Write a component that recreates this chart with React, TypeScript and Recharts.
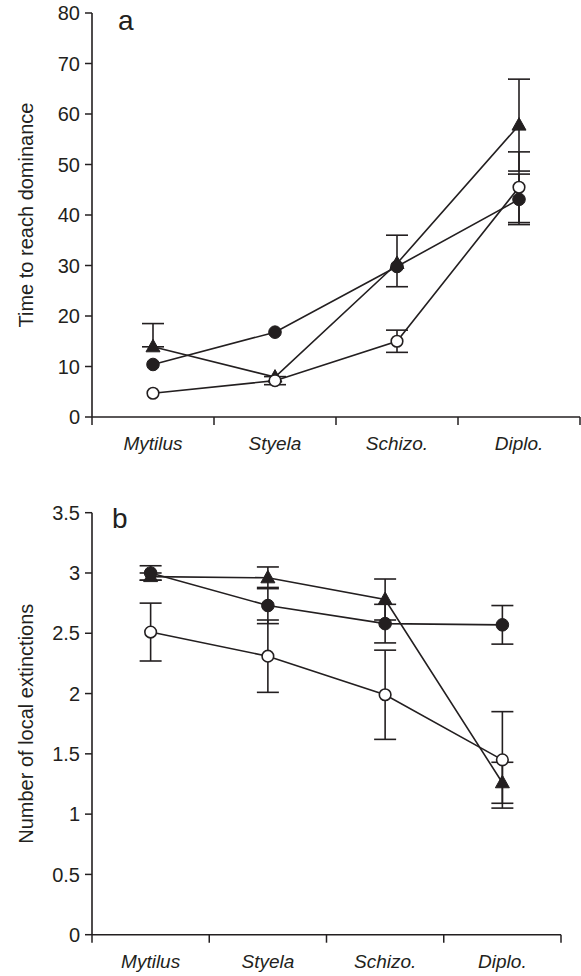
import { LineChart, Line, XAxis, YAxis, ErrorBar, Customized } from "recharts"

const INK = "#231f20"
const FONT = "'Liberation Sans', Arial, Helvetica, sans-serif"

const species = ["Mytilus", "Styela", "Schizo.", "Diplo."]

// panel a: time to reach dominance ([below, above] where the bars are uneven)
const domTriangle = [13.9, 7.9, 30.4, 57.8]
const domTriangleErr: (number | number[])[] = [[0, 4.6], 0, [4.6, 5.6], 9.1]
const domFilled = [10.4, 16.8, 29.8, 43.1]
const domFilledErr = [0, 0, 0, 5.0]
const domOpen = [4.7, 7.2, 15.0, 45.5]
const domOpenErr = [0, 0.8, 2.2, 7.0]
const domTicks = [0, 10, 20, 30, 40, 50, 60, 70, 80]

// panel b: number of local extinctions
const extTriangle = [2.97, 2.96, 2.78, 1.26]
const extTriangleErr = [0.03, 0.09, 0.17, 0.17]
const extFilled = [3.0, 2.73, 2.58, 2.57]
const extFilledErr = [0.06, 0.15, 0.16, 0.16]
const extOpen = [2.51, 2.31, 1.99, 1.45]
const extOpenErr = [0.24, 0.3, 0.37, 0.4]
const extTicks = [0, 0.5, 1, 1.5, 2, 2.5, 3, 3.5]

const buildRows = (tri: number[], triErr: any[], fil: number[], filErr: any[], opn: number[], opnErr: any[]) =>
  species.map((name, i) => ({
    name,
    tri: tri[i],
    triErr: triErr[i],
    fil: fil[i],
    filErr: filErr[i],
    opn: opn[i],
    opnErr: opnErr[i],
  }))

const domRows = buildRows(domTriangle, domTriangleErr, domFilled, domFilledErr, domOpen, domOpenErr)
const extRows = buildRows(extTriangle, extTriangleErr, extFilled, extFilledErr, extOpen, extOpenErr)

const TriangleDot = (props: any) => {
  const { cx, cy, index } = props
  if (cx == null || cy == null) return <g key={`t-${index}`} />
  return (
    <polygon
      key={`t-${index}`}
      points={`${cx},${cy - 7.5} ${cx - 7},${cy + 5} ${cx + 7},${cy + 5}`}
      fill={INK}
      stroke={INK}
      strokeWidth={1}
    />
  )
}

const makeCategoryTick = (band: number) => (props: any) => {
  const { x, y, payload, index } = props
  const left = x - band / 2
  const right = x + band / 2
  return (
    <g>
      <line x1={left} y1={y} x2={left} y2={y + 8} stroke={INK} strokeWidth={1.5} />
      {index === species.length - 1 && <line x1={right} y1={y} x2={right} y2={y + 8} stroke={INK} strokeWidth={1.5} />}
      <text x={x} y={y + 33} textAnchor="middle" fontStyle="italic" fontSize={19} fontFamily={FONT} fill={INK}>
        {payload.value}
      </text>
    </g>
  )
}

interface PanelProps {
  rows: any[]
  width: number
  height: number
  margin: { top: number; right: number; bottom: number; left: number }
  domain: [number, number]
  ticks: number[]
  title: string
  letter: string
  letterX: number
  letterY: number
}

function Panel({ rows, width, height, margin, domain, ticks, title, letter, letterX, letterY }: PanelProps) {
  const yAxisWidth = 92
  const xAxisHeight = 40
  const plotLeft = margin.left + yAxisWidth
  const plotRight = width - margin.right
  const plotTop = margin.top
  const plotBottom = height - margin.bottom - xAxisHeight
  const band = (plotRight - plotLeft) / species.length
  const midY = (plotTop + plotBottom) / 2

  const series = [
    { key: "tri", err: "triErr", dot: TriangleDot },
    { key: "fil", err: "filErr", dot: { r: 6.3, fill: INK, stroke: INK, strokeWidth: 1 } },
    { key: "opn", err: "opnErr", dot: { r: 5.8, fill: "#ffffff", stroke: INK, strokeWidth: 1.6 } },
  ]

  return (
    <LineChart width={width} height={height} data={rows} margin={margin}>
      <XAxis
        dataKey="name"
        scale="band"
        height={xAxisHeight}
        axisLine={{ stroke: INK, strokeWidth: 1.6 }}
        tickLine={false}
        tickSize={0}
        tickMargin={0}
        interval={0}
        tick={makeCategoryTick(band)}
      />
      <YAxis
        type="number"
        domain={domain}
        ticks={ticks}
        width={yAxisWidth}
        axisLine={{ stroke: INK, strokeWidth: 1.6 }}
        tickLine={{ stroke: INK, strokeWidth: 1.5 }}
        tickSize={7}
        tickMargin={5}
        tick={{ fill: INK, fontSize: 20, fontFamily: FONT }}
      />
      {series.map((s) => (
        <Line
          key={s.key}
          dataKey={s.key}
          type="linear"
          stroke={INK}
          strokeWidth={1.6}
          dot={s.dot as any}
          activeDot={false}
          isAnimationActive={false}
        >
          <ErrorBar dataKey={s.err} direction="y" width={11} stroke={INK} strokeWidth={1.6} isAnimationActive={false} />
        </Line>
      ))}
      <Customized
        component={() => (
          <g>
            <text
              x={33}
              y={midY}
              transform={`rotate(-90 33 ${midY})`}
              textAnchor="middle"
              fontSize={20}
              fontFamily={FONT}
              fill={INK}
            >
              {title}
            </text>
            <text x={letterX} y={letterY} fontSize={28} fontFamily={FONT} fill={INK}>
              {letter}
            </text>
          </g>
        )}
      />
    </LineChart>
  )
}

export default function App() {
  return (
    <div style={{ position: "absolute", left: 0, top: 0, width: 581, height: 976, background: "#ffffff" }}>
      <div style={{ position: "absolute", left: 0, top: 0 }}>
        <Panel
          rows={domRows}
          width={581}
          height={470}
          margin={{ top: 13, right: 1, bottom: 13, left: 0 }}
          domain={[0, 80]}
          ticks={domTicks}
          title="Time to reach dominance"
          letter="a"
          letterX={118}
          letterY={30}
        />
      </div>
      <div style={{ position: "absolute", left: 0, top: 470 }}>
        <Panel
          rows={extRows}
          width={581}
          height={506}
          margin={{ top: 42.7, right: 20, bottom: 1.3, left: 0 }}
          domain={[0, 3.5]}
          ticks={extTicks}
          title="Number of local extinctions"
          letter="b"
          letterX={112}
          letterY={58}
        />
      </div>
    </div>
  )
}
